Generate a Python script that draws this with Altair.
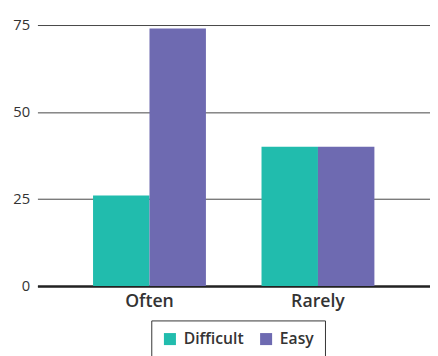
import altair as alt
import pandas as pd

categories = ["Often", "Rarely"]
series = ["Difficult", "Easy"]
difficult = [26, 40]
easy = [74, 40]
colors = ["#21BCAD", "#6E6AB1"]

rows = []
for i, c in enumerate(categories):
    rows.append({"freq": c, "series": "Difficult", "value": difficult[i]})
    rows.append({"freq": c, "series": "Easy", "value": easy[i]})
df = pd.DataFrame(rows)

FONT = "Open Sans"

chart = alt.Chart(df).mark_bar().encode(
    x=alt.X("freq:N", sort=categories, title=None,
            scale=alt.Scale(paddingInner=0.33, paddingOuter=0.33),
            axis=alt.Axis(labelAngle=0, ticks=False, domainColor="#222", domainWidth=2.5,
                          labelFontSize=18, labelFontWeight=600, labelColor="#333",
                          labelPadding=7, labelFont=FONT)),
    xOffset=alt.XOffset("series:N", sort=series, scale=alt.Scale(paddingInner=0)),
    y=alt.Y("value:Q", title=None,
            scale=alt.Scale(domain=[0, 75], nice=False),
            axis=alt.Axis(values=[0, 25, 50, 75], domain=False, ticks=False,
                          gridColor="#444", gridWidth=1, labelFontSize=15,
                          labelColor="#333", labelPadding=8, labelFont=FONT)),
    color=alt.Color("series:N", sort=series, title=None,
                    scale=alt.Scale(domain=series, range=colors),
                    legend=alt.Legend(orient="none", direction="horizontal",
                                      legendX=116, legendY=301,
                                      symbolType="square", symbolSize=150,
                                      symbolStrokeWidth=0, labelFontSize=16,
                                      labelFontWeight=600, labelColor="#333",
                                      labelFont=FONT, strokeColor="#333",
                                      padding=11, columnPadding=14, labelOffset=6,
                                      cornerRadius=0)),
).properties(
    width=400, height=266,
    autosize=alt.AutoSizeParams(type="none"),
    padding={"left": 30, "top": 14, "right": 0, "bottom": 74},
).configure_view(stroke=None)

chart.save("out.html", embed_options={"renderer": "svg", "actions": False})
